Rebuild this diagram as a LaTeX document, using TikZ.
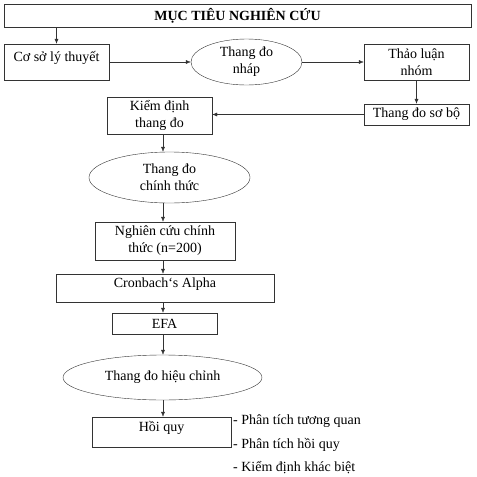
\documentclass[tikz,border=0pt]{standalone}
\usepackage{fontspec}
\setmainfont{Liberation Serif}
\usepackage{tikz}
\usetikzlibrary{shapes.geometric,arrows.meta}
\newcommand{\flowfont}{\fontsize{14}{17}\selectfont}
\tikzset{
    flow-box/.style = {draw=black!80, thin, rectangle, align=center, inner sep=2pt, font=\flowfont},
    flow-oval/.style = {draw=black!80, thin, ellipse, align=center, inner sep=0pt, font=\flowfont},
    lift-text/.style = {text depth=11pt},
    flow-arrow/.style = {draw=black!80, thin, -{Latex[length=5pt,width=4pt]}},
    note-text/.style = {anchor=west, inner sep=0pt, font=\flowfont},
}

\begin{document}
\begin{tikzpicture}[x=1pt, y=-1pt]
\useasboundingbox (0,0) rectangle (477,477);
\coordinate (spine) at (163,0);

\node [flow-box, minimum width=467pt, minimum height=23pt, font=\flowfont\bfseries] (goal) at (237.5,15.5) {MỤC TIÊU NGHIÊN CỨU};
\node [flow-box, lift-text, minimum width=105pt, minimum height=36pt] (theory) at (56.5,62) {Cơ sở lý thuyết};
\node [flow-oval, minimum width=111pt, minimum height=46pt] (draft) at (246.5,62) {Thang đo\\nháp};
\node [flow-box, minimum width=105pt, minimum height=36pt] (group) at (416.5,62) {Thảo luận\\nhóm};
\node [flow-box, minimum width=105pt, minimum height=21pt] (prelim) at (416.5,114.5) {Thang đo sơ bộ};
\node [flow-box, minimum width=105pt, minimum height=37pt] (test) at (159.5,115.5) {Kiểm định\\thang đo};
\node [flow-oval, minimum width=161pt, minimum height=51pt] (official) at (169.5,177.5) {Thang đo\\chính thức};
\node [flow-box, minimum width=140pt, minimum height=38pt] (study) at (165,241) {Nghiên cứu chính\\thức (n=200)};
\node [flow-box, lift-text, minimum width=218pt, minimum height=28pt] (alpha) at (165,288) {Cronbach`s Alpha};
\node [flow-box, minimum width=105pt, minimum height=21pt] (efa) at (164.5,323.5) {EFA};
\node [flow-oval, minimum width=199pt, minimum height=45pt] (adjusted) at (162.5,377.5) {Thang đo hiệu chỉnh};
\node [flow-box, lift-text, minimum width=139pt, minimum height=30pt] (regress) at (161.5,432) {Hồi quy};

\node [note-text] (note1) at (233,421) {- Phân tích tương quan};
\node [note-text] (note2) at (233,445) {- Phân tích hồi quy};
\node [note-text] (note3) at (233,468) {- Kiểm định khác biệt};

\draw [flow-arrow] (goal.south -| theory) -- (theory.north);
\draw [flow-arrow] (theory) -- (draft);
\draw [flow-arrow] (draft) -- (group);
\draw [flow-arrow] (group) -- (prelim);
\draw [flow-arrow] (prelim.west) -- (test.east |- prelim.west);
\draw [flow-arrow] (test.south -| spine) -- (official.north -| spine);
\draw [flow-arrow] (official.south -| spine) -- (study.north -| spine);
\draw [flow-arrow] (study.south -| spine) -- (alpha.north -| spine);
\draw [flow-arrow] (alpha.south -| spine) -- (efa.north -| spine);
\draw [flow-arrow] (efa.south -| spine) -- (adjusted.north -| spine);
\draw [flow-arrow] (adjusted.south -| spine) -- (regress.north -| spine);
\end{tikzpicture}
\end{document}
